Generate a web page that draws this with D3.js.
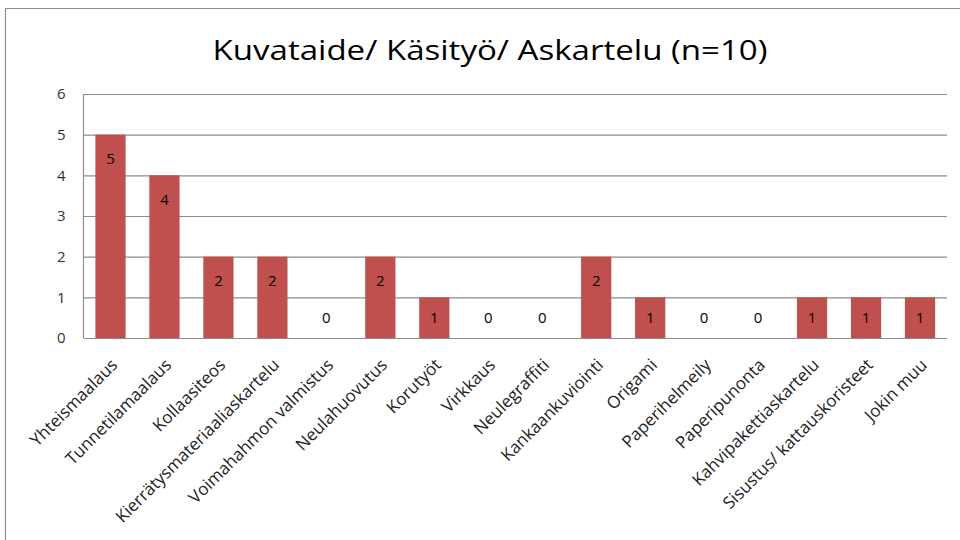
<!DOCTYPE html>
<html>
<head>
<meta charset="utf-8">
<script src="https://cdn.jsdelivr.net/npm/d3@7"></script>
<style>
  body { margin: 0; background: #fff; }
  svg { display: block; }
</style>
</head>
<body>
<svg id="chart" width="960" height="540"></svg>
<script>
const title = "Kuvataide/ Käsityö/ Askartelu (n=10)"
const categories = ["Yhteismaalaus", "Tunnetilamaalaus", "Kollaasiteos", "Kierrätysmateriaaliaskartelu",
  "Voimahahmon  valmistus", "Neulahuovutus", "Korutyöt", "Virkkaus", "Neulegraffiti",
  "Kankaankuviointi", "Origami", "Paperihelmeily", "Paperipunonta", "Kahvipakettiaskartelu",
  "Sisustus/ kattauskoristeet", "Jokin muu"]
const counts = [5, 4, 2, 2, 0, 2, 1, 0, 0, 2, 1, 0, 0, 1, 1, 1]
const yTicks = [0, 1, 2, 3, 4, 5, 6]

const data = categories.map((c, i) => ({ name: c, value: counts[i] }))

const margin = { top: 94, right: 13, bottom: 202, left: 83.5 }
const width = 960, height = 540
const plotW = width - margin.left - margin.right
const plotH = height - margin.top - margin.bottom

const svg = d3.select("#chart")
const font = "'Open Sans', 'DejaVu Sans', sans-serif"

// chart border (left + top visible)
svg.append("path")
  .attr("d", "M5.5,540 V8.5 H960")
  .attr("fill", "none")
  .attr("stroke", "#8c8c8c")
  .attr("stroke-width", 1.2)

svg.append("text")
  .attr("x", 490)
  .attr("y", 60)
  .attr("text-anchor", "middle")
  .attr("font-family", font)
  .attr("font-size", 27)
  .attr("font-weight", 500)
  .attr("textLength", 555)
  .attr("lengthAdjust", "spacingAndGlyphs")
  .attr("fill", "#000")
  .text(title)

const g = svg.append("g").attr("transform", `translate(${margin.left},${margin.top})`)

const x = d3.scaleBand()
  .domain(categories)
  .range([0, plotW])
  .paddingInner(0.44)
  .paddingOuter(0.22)

const y = d3.scaleLinear()
  .domain([0, 6])
  .range([plotH, 0])

// gridlines + y labels
const yAxis = g.append("g")
  .call(d3.axisLeft(y).tickValues(yTicks).tickFormat(d3.format("d")).tickSize(-plotW).tickPadding(18))
yAxis.select(".domain").remove()
yAxis.selectAll(".tick line").attr("stroke", "#8c8c8c").attr("stroke-width", 1.2)
yAxis.selectAll(".tick text")
  .attr("font-family", font)
  .attr("font-size", 15)
  .attr("fill", "#333")

// left axis line
g.append("line")
  .attr("x1", 0).attr("x2", 0)
  .attr("y1", 0).attr("y2", plotH)
  .attr("stroke", "#8c8c8c")
  .attr("stroke-width", 1.2)

g.selectAll("rect.bar")
  .data(data)
  .join("rect")
  .attr("class", "bar")
  .attr("x", d => x(d.name))
  .attr("y", d => y(d.value))
  .attr("width", x.bandwidth())
  .attr("height", d => plotH - y(d.value))
  .attr("fill", "#c0504d")

g.selectAll("text.val")
  .data(data)
  .join("text")
  .attr("class", "val")
  .attr("x", d => x(d.name) + x.bandwidth() / 2)
  .attr("y", d => Math.min(y(d.value) + 24, y(0) - 20))
  .attr("dy", "0.35em")
  .attr("text-anchor", "middle")
  .attr("font-family", font)
  .attr("font-size", 15)
  .attr("fill", "#000")
  .text(d => d.value)

// category labels, rotated
const xAxis = g.append("g")
  .attr("transform", `translate(0,${plotH})`)
  .call(d3.axisBottom(x).tickSize(0).tickPadding(0))
xAxis.select(".domain").remove()
xAxis.selectAll(".tick text")
  .attr("font-family", font)
  .attr("font-size", 17)
  .attr("fill", "#222")
  .attr("text-anchor", "end")
  .attr("dy", null)
  .attr("y", 0)
  .attr("transform", "translate(8,28) rotate(-45)")
</script>
</body>
</html>
